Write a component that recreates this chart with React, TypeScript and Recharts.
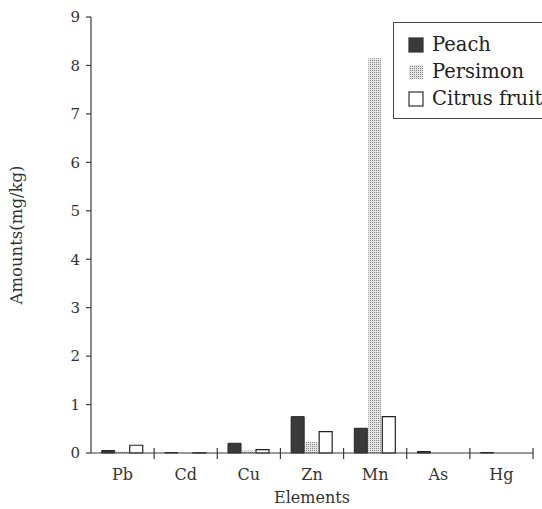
import React from 'react';
import { BarChart, Bar, XAxis, YAxis, Legend } from 'recharts';

const elements = ['Pb', 'Cd', 'Cu', 'Zn', 'Mn', 'As', 'Hg'];
const peach = [0.05, 0.01, 0.2, 0.75, 0.51, 0.03, 0.01];
const persimon = [0.03, 0.005, 0.05, 0.23, 8.15, 0.0, 0.0];
const citrus = [0.16, 0.005, 0.07, 0.44, 0.75, 0.0, 0.0];
const yTicks = [0, 1, 2, 3, 4, 5, 6, 7, 8, 9];

const seriesNames = { peach: 'Peach', persimon: 'Persimon', citrus: 'Citrus fruit' };

const data = elements.map((el, i) => ({
  element: el,
  peach: peach[i],
  persimon: persimon[i],
  citrus: citrus[i],
}));

const FONT = '"DejaVu Serif", "Liberation Serif", serif';
const INK = '#3a3a3a';

const XTick = (props: any) => {
  const { x, y, payload } = props;
  const half = payload && payload.offset ? payload.offset : 0;
  return (
    <g>
      <line x1={x + half} x2={x + half} y1={y - 5} y2={y + 6} stroke={INK} strokeWidth={1.2} />
      <text x={x} y={y + 27} textAnchor="middle" fontFamily={FONT} fontSize={16} fill="#333">
        {payload.value}
      </text>
    </g>
  );
};

const LegendBox = (props: any) => {
  const items = [
    { key: 'peach', fill: INK },
    { key: 'persimon', fill: 'url(#legdots)' },
    { key: 'citrus', fill: '#fff' },
  ];
  return (
    <div
      style={{
        border: '1.5px solid #444',
        padding: '8px 0 6px 14px',
        width: 170,
        background: '#fff',
        fontFamily: FONT,
        fontSize: 19.5,
        color: '#222',
        boxSizing: 'border-box',
      }}
    >
      {items.map((it) => (
        <div key={it.key} style={{ display: 'flex', alignItems: 'center', height: 27, whiteSpace: 'nowrap' }}>
          <svg width={16} height={16} style={{ marginRight: 8, flex: 'none' }}>
            <defs>
              <pattern id="legdots" width="2" height="2" patternUnits="userSpaceOnUse">
                <rect width="2" height="2" fill="#e4e4e4" />
                <rect width="1" height="1" fill="#888" />
              </pattern>
            </defs>
            <rect x={1} y={1} width={14} height={14} fill={it.fill} stroke={it.key === 'persimon' ? 'none' : '#333'} strokeWidth={1.2} />
          </svg>
          <span>{(seriesNames as any)[it.key]}</span>
        </div>
      ))}
    </div>
  );
};

export default function App() {
  return (
    <div style={{ position: 'absolute', left: 0, top: 0, width: 542, height: 509, background: '#fff', overflow: 'hidden' }}>
      <BarChart
        width={542}
        height={509}
        data={data}
        margin={{ top: 17, right: 9, bottom: 0, left: 0 }}
        barCategoryGap="17%"
        barGap={1}
      >
        <defs>
          <pattern id="dots" width="2" height="2" patternUnits="userSpaceOnUse">
            <rect width="2" height="2" fill="#e4e4e4" />
            <rect width="1" height="1" fill="#8a8a8a" />
          </pattern>
        </defs>
        <XAxis
          dataKey="element"
          height={56}
          tickLine={false}
          tickSize={0}
          tickMargin={0}
          tick={<XTick />}
          axisLine={{ stroke: INK, strokeWidth: 1.2 }}
          interval={0}
          label={{ value: 'Elements', position: 'insideBottom', offset: 6, fontFamily: FONT, fontSize: 16, fill: '#333' }}
        />
        <YAxis
          width={91}
          domain={[0, 9]}
          ticks={yTicks}
          interval={0}
          tickSize={5}
          tickMargin={6}
          tickLine={{ stroke: INK, strokeWidth: 1.2 }}
          axisLine={{ stroke: INK, strokeWidth: 1.2 }}
          tick={{ fontFamily: FONT, fontSize: 15, fill: '#333' }}
          label={{ value: 'Amounts(mg/kg)', angle: -90, position: 'insideLeft', offset: 16, fontFamily: FONT, fontSize: 16.5, fill: '#333', style: { textAnchor: 'middle' } }}
        />
        <Legend
          layout="vertical"
          align="center"
          verticalAlign="middle"
          content={<LegendBox />}
          wrapperStyle={{ position: 'absolute', left: 393, top: 22, width: 170 }}
        />
        <Bar dataKey="peach" name="Peach" fill={INK} stroke="#222" strokeWidth={1} isAnimationActive={false} />
        <Bar dataKey="persimon" name="Persimon" fill="url(#dots)" stroke="none" isAnimationActive={false} />
        <Bar dataKey="citrus" name="Citrus fruit" fill="#fff" stroke="#222" strokeWidth={1.2} isAnimationActive={false} />
      </BarChart>
    </div>
  );
}
